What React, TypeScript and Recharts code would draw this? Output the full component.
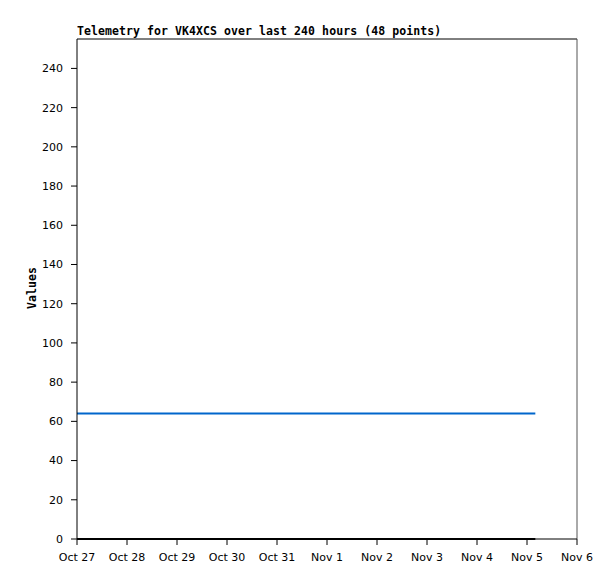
import { LineChart, Line, XAxis, YAxis, ReferenceLine } from 'recharts'

// hours since Oct 27 00:00
const hours = [
  0, 4.7, 9.4, 14, 18.7, 23.4, 28.1, 32.8, 37.4, 42.1, 46.8, 51.5,
  56.2, 60.9, 65.5, 70.2, 74.9, 79.6, 84.3, 88.9, 93.6, 98.3, 103, 107.7,
  112.3, 117, 121.7, 126.4, 131.1, 135.7, 140.4, 145.1, 149.8, 154.5, 159.1, 163.8,
  168.5, 173.2, 177.9, 182.6, 187.2, 191.9, 196.6, 201.3, 206, 210.6, 215.3, 220,
]
const channel1 = [
  64, 64, 64, 64, 64, 64, 64, 64, 64, 64, 64, 64,
  64, 64, 64, 64, 64, 64, 64, 64, 64, 64, 64, 64,
  64, 64, 64, 64, 64, 64, 64, 64, 64, 64, 64, 64,
  64, 64, 64, 64, 64, 64, 64, 64, 64, 64, 64, 64,
]
const channel2 = [
  0, 0, 0, 0, 0, 0, 0, 0, 0, 0, 0, 0,
  0, 0, 0, 0, 0, 0, 0, 0, 0, 0, 0, 0,
  0, 0, 0, 0, 0, 0, 0, 0, 0, 0, 0, 0,
  0, 0, 0, 0, 0, 0, 0, 0, 0, 0, 0, 0,
]
const dayTicks = [0, 24, 48, 72, 96, 120, 144, 168, 192, 216, 240]
const dayLabels = ['Oct 27', 'Oct 28', 'Oct 29', 'Oct 30', 'Oct 31', 'Nov 1', 'Nov 2', 'Nov 3', 'Nov 4', 'Nov 5', 'Nov 6']
const valueTicks = [0, 20, 40, 60, 80, 100, 120, 140, 160, 180, 200, 220, 240]
const yMax = 255

const data = hours.map((h, i) => ({ h, ch1: channel1[i], ch2: channel2[i] }))

const tickFont = { fontFamily: 'DejaVu Sans', fontSize: 11, fill: '#000' }
const monoBold = { fontFamily: 'DejaVu Sans Mono', fontWeight: 'bold' as const, fontSize: 11.5, color: '#000', letterSpacing: 0.08 }

export default function App() {
  return (
    <div style={{ position: 'absolute', left: 0, top: 0, width: 615, height: 579, background: '#fff' }}>
      <LineChart width={615} height={579} data={data} margin={{ top: 39, right: 38, bottom: 10, left: 37 }}>
        <XAxis
          dataKey="h"
          type="number"
          domain={[0, 240]}
          ticks={dayTicks}
          tickFormatter={(v: number) => dayLabels[dayTicks.indexOf(v)]}
          height={30}
          tickSize={6}
          tickMargin={8}
          tick={tickFont}
          stroke="#000"
          interval={0}
        />
        <YAxis
          type="number"
          domain={[0, yMax]}
          ticks={valueTicks}
          width={40}
          tickSize={6}
          tickMargin={8}
          tick={tickFont}
          stroke="#000"
          interval={0}
        />
        <ReferenceLine y={yMax} stroke="#000" strokeWidth={1} />
        <ReferenceLine x={240} stroke="#555" strokeWidth={1} />
        <Line dataKey="ch2" stroke="#000" strokeWidth={2} dot={false} isAnimationActive={false} />
        <Line dataKey="ch1" stroke="#0066cc" strokeWidth={2} dot={false} isAnimationActive={false} />
      </LineChart>
      <div style={{ ...monoBold, position: 'absolute', left: 77, top: 24, lineHeight: '14px', whiteSpace: 'nowrap' }}>
        Telemetry for VK4XCS over last 240 hours (48 points)
      </div>
      <div
        style={{
          ...monoBold,
          position: 'absolute',
          left: 32,
          top: 288,
          lineHeight: '14px',
          whiteSpace: 'nowrap',
          transform: 'translate(-50%, -50%) rotate(-90deg)',
        }}
      >
        Values
      </div>
    </div>
  )
}
